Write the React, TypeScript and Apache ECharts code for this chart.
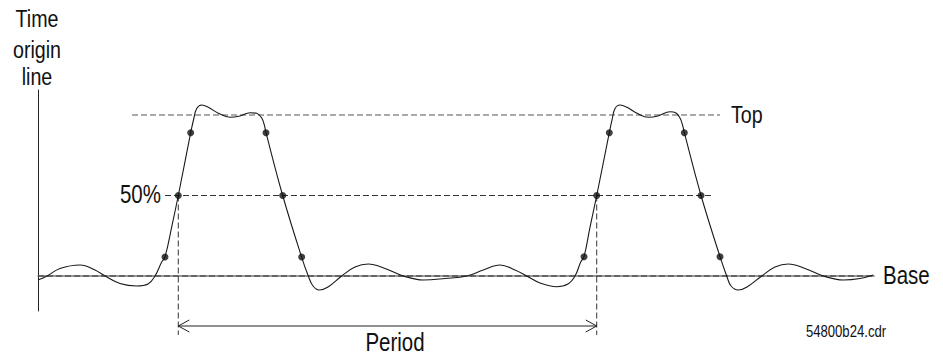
import React, { useEffect, useRef } from "react";
import * as echarts from "echarts";

// Waveform trace, time units (period = 100) and level units (Base = 0, Top = 100)
const waveX = [
  0, 2.15, 5.26, 10.04, 13.62, 16.01, 19.6, 23.59, 26.29, 27.96, 29.56, 30.35, 31.95, 33.53,
  36.49, 37.16, 37.93, 39.13, 40.7, 43.09, 45.89, 48.28, 50.67, 52.27, 53.47, 54.09, 54.49,
  58.48, 63.02, 64.6, 65.73, 67.23, 69.31, 72.59, 75.76, 78.94, 82.93, 87.31, 92.09, 97.28,
  102.46, 106.44, 110.42, 114.0, 116.8, 119.98, 123.97, 126.67, 128.35, 129.71, 130.5, 131.93,
  133.53, 136.54, 137.19, 137.91, 139.1, 140.77, 143.16, 145.86, 148.18, 151.05, 152.49,
  153.44, 154.04, 154.47, 158.46, 163.0, 164.6, 165.63, 167.38, 169.46, 172.97, 176.15,
  179.33, 183.32, 187.69, 192.47, 196.46, 199.64,
];
const waveY = [
  -2.5, 0, 4.66, 6.83, 3.73, 0, -4.66, -6.21, -4.97, 0, 8.7, 11.8, 30.4, 50,
  89, 96.9, 104, 106.2, 104.8, 101.1, 98.6, 99.4, 101.4, 101.1, 98.1, 93.8, 89,
  50, 11.6, 0, -6.2, -8.7, -6.83, 0, 5.59, 7.45, 4.66, 0, -2.48, -1.55,
  0, 3.73, 6.83, 3.73, 0, -4.35, -6.65, -4.97, 0, 8.7, 12, 30.4,
  50, 89, 96.9, 104, 106.2, 104.8, 101.1, 98.6, 99.4, 102, 101.2,
  98.1, 93.8, 89, 50, 12, 0, -6.2, -8.7, -6.83, 0, 5.59,
  7.45, 4.66, 0, -2.48, -1.55, 0.62,
];

// Measurement points (10%, 50%, 90% crossings)
const dotX = [30.35, 33.53, 36.49, 54.49, 58.48, 63.02, 130.5, 133.53, 136.54, 154.47, 158.46, 163.0];
const dotY = [11.8, 50, 89, 89, 50, 11.8, 12, 50, 89, 89, 50, 12];

// Reference levels and their extents
const topLevel = 100;
const topRange = [22.47, 163.0];
const midLevel = 50;
const midRange = [30.35, 161.3];
const baseLevel = 0;
const baseRange = [0, 199.6];

// Period markers
const periodStart = 33.53;
const periodEnd = 133.53;
const periodArrowLevel = -31.06;
const markerBottom = -36.6;

const labels = {
  timeOrigin: ["Time", "origin", "line"],
  top: "Top",
  mid: "50%",
  base: "Base",
  period: "Period",
  file: "54800b24.cdr",
};

const FONT = '"Liberation Sans", Arial, sans-serif';

export default function App() {
  const ref = useRef<HTMLDivElement>(null);

  useEffect(() => {
    if (!ref.current) return;
    const chart = echarts.init(ref.current, undefined, { renderer: "svg" });

    const dash = { color: "#333", width: 1, type: [6, 3] as any };
    const lineSeries = (data: number[][], style: any, clip = true) => ({
      type: "line",
      data,
      symbol: "none",
      clip,
      silent: true,
      lineStyle: style,
      z: 1,
    });

    // arrowhead size in data units
    const ahx = 2.63;
    const ahy = 3.73;

    const text = (t: string, x: number, y: number, size: number, align = "center") => ({
      type: "text",
      x,
      y,
      scaleX: 0.82,
      style: {
        text: t,
        fill: "#111",
        font: `${size}px ${FONT}`,
        textAlign: align,
        textVerticalAlign: "middle",
      },
    });

    chart.setOption({
      animation: false,
      grid: { left: 38, top: 90, width: 836, height: 221 },
      xAxis: {
        type: "value",
        min: 0,
        max: 199.8,
        axisLine: { show: true, lineStyle: { color: "#777", width: 1.5 } },
        axisTick: { show: false },
        axisLabel: { show: false },
        splitLine: { show: false },
      },
      yAxis: {
        type: "value",
        min: -21.74,
        max: 115.53,
        axisLine: { show: true, lineStyle: { color: "#222", width: 1 } },
        axisTick: { show: false },
        axisLabel: { show: false },
        splitLine: { show: false },
      },
      series: [
        lineSeries([[topRange[0], topLevel], [topRange[1], topLevel]], { ...dash, color: "#555" }),
        lineSeries([[midRange[0], midLevel], [midRange[1], midLevel]], dash),
        lineSeries([[baseRange[0], baseLevel], [baseRange[1], baseLevel]], dash),
        lineSeries([[periodStart, midLevel], [periodStart, markerBottom]], dash, false),
        lineSeries([[periodEnd, midLevel], [periodEnd, markerBottom]], dash, false),
        lineSeries([[periodStart, periodArrowLevel], [periodEnd, periodArrowLevel]], { color: "#222", width: 1 }, false),
        lineSeries(
          [
            [periodStart + ahx, periodArrowLevel + ahy],
            [periodStart, periodArrowLevel],
            [periodStart + ahx, periodArrowLevel - ahy],
          ],
          { color: "#222", width: 1 },
          false
        ),
        lineSeries(
          [
            [periodEnd - ahx, periodArrowLevel + ahy],
            [periodEnd, periodArrowLevel],
            [periodEnd - ahx, periodArrowLevel - ahy],
          ],
          { color: "#222", width: 1 },
          false
        ),
        {
          type: "line",
          data: waveX.map((x, i) => [x, waveY[i]]),
          symbol: "none",
          smooth: 0.4,
          silent: true,
          lineStyle: { color: "#1a1a1a", width: 1.1 },
          z: 2,
        },
        {
          type: "scatter",
          data: dotX.map((x, i) => [x, dotY[i]]),
          symbol: "circle",
          symbolSize: 7,
          itemStyle: { color: "#111" },
          silent: true,
          z: 3,
        },
      ],
      graphic: [
        text(labels.timeOrigin[0], 37, 19, 24),
        text(labels.timeOrigin[1], 37, 50, 24),
        text(labels.timeOrigin[2], 37, 77, 24),
        text(labels.top, 731, 115, 24, "left"),
        text(labels.mid, 161, 194, 25, "right"),
        text(labels.base, 883, 275, 25, "left"),
        text(labels.period, 395, 342, 25),
        text(labels.file, 846, 332, 16),
      ],
    });

    return () => chart.dispose();
  }, []);

  return (
    <div
      ref={ref}
      style={{ position: "fixed", left: 0, top: 0, width: 943, height: 355, background: "#fff" }}
    />
  );
}
